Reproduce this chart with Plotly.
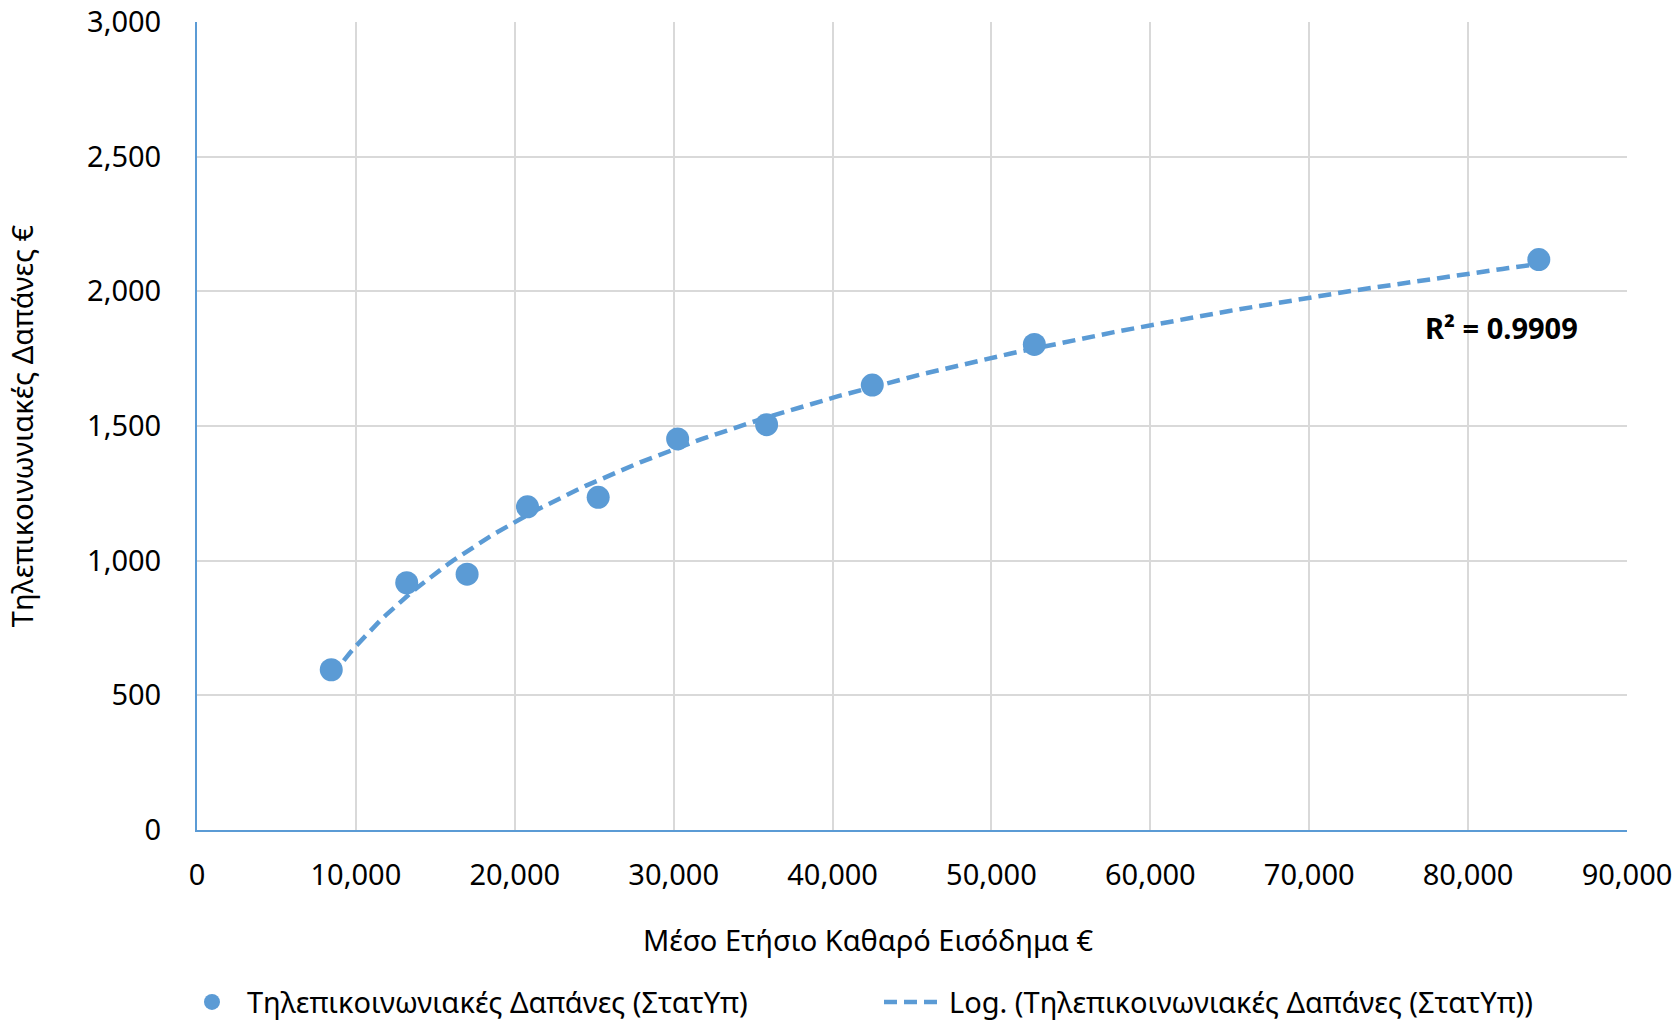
import numpy as np
import plotly.graph_objects as go

# Data
income = [8450, 13200, 17000, 20800, 25250, 30250, 35850, 42500, 52700, 84450]
spend = [595, 918, 950, 1200, 1235, 1452, 1505, 1652, 1803, 2118]

x_ticks = [0, 10000, 20000, 30000, 40000, 50000, 60000, 70000, 80000, 90000]
y_ticks = [0, 500, 1000, 1500, 2000, 2500, 3000]

series_name = "Τηλεπικοινωνιακές Δαπάνες (ΣτατΥπ)"
trend_name = "Log. (Τηλεπικοινωνιακές Δαπάνες (ΣτατΥπ))"
x_title = "Μέσο Ετήσιο Καθαρό Εισόδημα €"
y_title = "Τηλεπικοινωνιακές Δαπάνες €"
r2_text = "R² = 0.9909"

# Logarithmic trendline fit
xa = np.array(income, dtype=float)
ya = np.array(spend, dtype=float)
a, b = np.polyfit(np.log(xa), ya, 1)
xt = np.linspace(xa.min(), xa.max(), 200)
yt = a * np.log(xt) + b

BLUE = "#5B9BD5"
FONT = "Noto Sans, sans-serif"

fig = go.Figure()
fig.add_trace(go.Scatter(
    x=xt, y=yt, mode="lines", name=trend_name,
    line=dict(color=BLUE, width=4.5, dash="13px,7px"),
    showlegend=True,
))
fig.add_trace(go.Scatter(
    x=income, y=spend, mode="markers", name=series_name,
    marker=dict(color=BLUE, size=23, line=dict(width=0)),
))

fig.add_annotation(
    x=82100, y=1866, xref="x", yref="y", text="<b>" + r2_text + "</b>",
    showarrow=False, font=dict(size=29, color="#000000", family=FONT),
)
fig.add_annotation(
    x=0.469, y=-0.135, xref="paper", yref="paper", text=x_title,
    showarrow=False, xanchor="center", yanchor="middle",
    font=dict(size=29, color="#000000", family=FONT),
)

fig.update_layout(
    width=1680, height=1030,
    margin=dict(l=197, r=53, t=22, b=200, autoexpand=False),
    plot_bgcolor="white", paper_bgcolor="white",
    font=dict(family=FONT, size=29, color="#000000"),
    showlegend=True,
    legend=dict(
        orientation="h", x=-0.014, xanchor="left", y=-0.213, yanchor="middle",
        font=dict(size=29), entrywidth=627, itemwidth=60,
        traceorder="reversed",
    ),
    xaxis=dict(
        range=[0, 90000], tickvals=x_ticks, tickformat=",d",
        showgrid=True, gridcolor="#D9D9D9", gridwidth=1.5,
        showline=True, linecolor=BLUE, linewidth=2,
        zeroline=False, ticks="", ticklabelstandoff=18,
        automargin=False, ticklabeloverflow="allow",
    ),
    yaxis=dict(
        range=[0, 3000], tickvals=y_ticks, tickformat=",d",
        showgrid=True, gridcolor="#D9D9D9", gridwidth=1.5,
        showline=True, linecolor=BLUE, linewidth=2,
        zeroline=False, ticks="", ticklabelstandoff=28,
        title=dict(text=y_title, standoff=45, font=dict(size=29)),
        automargin=False, ticklabeloverflow="allow",
    ),
)

fig.write_html(
    "out.html",
    config={"displayModeBar": False},
    post_script="document.body.style.margin='0';document.body.style.overflow='hidden';",
)
